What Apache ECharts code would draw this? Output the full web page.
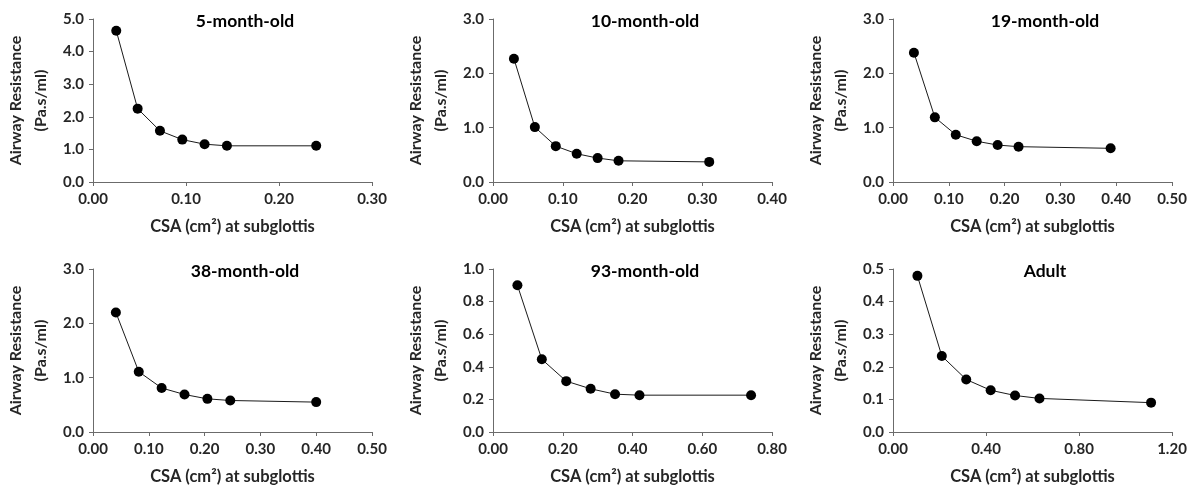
<!DOCTYPE html>
<html>
<head>
<meta charset="utf-8">
<script src="https://cdn.jsdelivr.net/npm/echarts@6/dist/echarts.min.js"></script>
<style>html,body{margin:0;padding:0;background:#fff}#c{width:1204px;height:492px}</style>
</head>
<body>
<div id="c"></div>
<script>
const titles = ['5-month-old', '10-month-old', '19-month-old', '38-month-old', '93-month-old', 'Adult'];
const csa5 = [0.025, 0.048, 0.072, 0.096, 0.12, 0.144, 0.24];
const res5 = [4.64, 2.25, 1.57, 1.30, 1.16, 1.11, 1.11];
const csa10 = [0.03, 0.06, 0.09, 0.12, 0.15, 0.18, 0.31];
const res10 = [2.27, 1.01, 0.66, 0.52, 0.44, 0.39, 0.37];
const csa19 = [0.0375, 0.075, 0.1125, 0.15, 0.1875, 0.225, 0.39];
const res19 = [2.38, 1.19, 0.87, 0.75, 0.68, 0.65, 0.62];
const csa38 = [0.041, 0.082, 0.123, 0.164, 0.205, 0.246, 0.40];
const res38 = [2.20, 1.11, 0.81, 0.69, 0.61, 0.58, 0.55];
const csa93 = [0.07, 0.14, 0.21, 0.28, 0.35, 0.42, 0.74];
const res93 = [0.90, 0.446, 0.312, 0.265, 0.232, 0.226, 0.226];
const csaAdult = [0.105, 0.21, 0.315, 0.42, 0.525, 0.63, 1.11];
const resAdult = [0.479, 0.233, 0.161, 0.128, 0.112, 0.103, 0.090];
const xMax = [0.30, 0.40, 0.50, 0.50, 0.80, 1.20];
const xStep = [0.10, 0.10, 0.10, 0.10, 0.20, 0.40];
const yMax = [5.0, 3.0, 3.0, 3.0, 1.0, 0.5];
const yStep = [1.0, 1.0, 1.0, 1.0, 0.2, 0.1];
const xName = 'CSA (cm²) at subglottis';
const yName = 'Airway Resistance\n(Pa.s/ml)';

const xs = [csa5, csa10, csa19, csa38, csa93, csaAdult];
const ys = [res5, res10, res19, res38, res93, resAdult];

const FONT = 'Lato, "Open Sans", sans-serif';
const lefts = [93, 493, 893];
const tops = [19, 269];
const W = 279, H = 163;

const grid = [], xAxis = [], yAxis = [], series = [], title = [];
for (let i = 0; i < 6; i++) {
  const col = i % 3, row = Math.floor(i / 3);
  grid.push({left: lefts[col], top: tops[row], width: W, height: H, containLabel: false});
  title.push({
    text: titles[i], left: lefts[col] + 147, top: tops[row] - 12, textAlign: 'center',
    textStyle: {fontFamily: FONT, fontWeight: 'bold', fontSize: 17.5, color: '#000'}
  });
  const axisLine = {show: true, lineStyle: {color: '#6b6b6b', width: 1}};
  xAxis.push({
    gridIndex: i, type: 'value', min: 0, max: xMax[i], interval: xStep[i],
    name: xName, nameLocation: 'middle', nameGap: 36,
    nameTextStyle: {fontFamily: FONT, fontWeight: 'bold', fontSize: 16.5, color: '#262626'},
    axisLine: axisLine,
    axisTick: {show: true, length: 4, lineStyle: {color: '#6b6b6b'}},
    splitLine: {show: false},
    axisLabel: {fontFamily: FONT, fontWeight: 'bold', fontSize: 15, color: '#262626', margin: 10,
      formatter: v => v.toFixed(2)}
  });
  yAxis.push({
    gridIndex: i, type: 'value', min: 0, max: yMax[i], interval: yStep[i],
    name: yName, nameLocation: 'middle', nameGap: 40, nameRotate: 90,
    nameTextStyle: {fontFamily: FONT, fontWeight: 'bold', fontSize: 16, color: '#262626', lineHeight: 25, align: 'center'},
    axisLine: axisLine,
    axisTick: {show: true, length: 4, lineStyle: {color: '#6b6b6b'}},
    splitLine: {show: false},
    axisLabel: {fontFamily: FONT, fontWeight: 'bold', fontSize: 15, color: '#262626', margin: 9,
      formatter: v => v.toFixed(1)}
  });
  series.push({
    type: 'line', xAxisIndex: i, yAxisIndex: i,
    data: xs[i].map((x, k) => [x, ys[i][k]]),
    symbol: 'circle', symbolSize: 10,
    itemStyle: {color: '#000'},
    lineStyle: {color: '#1a1a1a', width: 1},
    animation: false
  });
}

const chart = echarts.init(document.getElementById('c'));
chart.setOption({backgroundColor: '#fff', animation: false, title, grid, xAxis, yAxis, series});
</script>
</body>
</html>
